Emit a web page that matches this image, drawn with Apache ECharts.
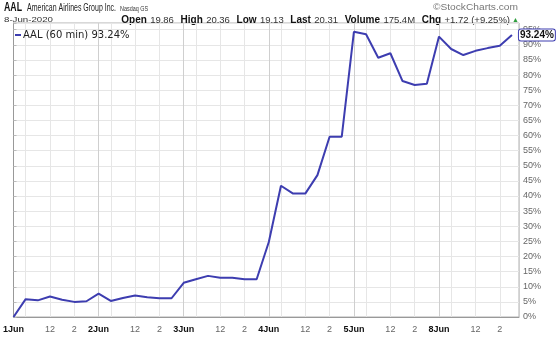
<!DOCTYPE html>
<html><head><meta charset="utf-8">
<script src="https://cdn.jsdelivr.net/npm/echarts@6/dist/echarts.min.js"></script>
<style>html,body{margin:0;padding:0;background:#fff}#c{width:560px;height:340px}</style>
</head><body><div id="c"></div>
<script>
// ---- data ----
const values = [0, 5.9, 5.5, 6.8, 5.7, 5.0, 5.2,
                7.7, 5.3, 6.3, 7.1, 6.5, 6.2, 6.2,
                11.3, 12.5, 13.6, 13.0, 13.0, 12.5, 12.5,
                24.8, 43.4, 40.8, 40.8, 46.9, 59.6, 59.6,
                94.3, 93.5, 85.7, 87.2, 78.0, 76.7, 77.1,
                92.7, 88.6, 86.6, 88.0, 88.9, 89.7, 93.24];
const dayLabels = ['1Jun', '2Jun', '3Jun', '4Jun', '5Jun', '8Jun'];
const hourLabels = ['', '', '', '12', '', '2', ''];
const barsPerDay = 7;
const symbolText = 'AAL';
const companyText = 'American Airlines Group Inc.';
const exchangeText = 'Nasdaq GS';
const dateText = '8-Jun-2020';
const statNames = ['Open', 'High', 'Low', 'Last', 'Volume', 'Chg'];
const statValues = ['19.86', '20.36', '19.13', '20.31', '175.4M', '+1.72 (+9.25%)'];
const seriesName = 'AAL (60 min) ' + values[values.length - 1].toFixed(2) + '%';

// ---- helpers ----
const FF = '"Liberation Sans", Arial, sans-serif';
const cv = document.createElement('canvas').getContext('2d');
function fit(text, font, w) { cv.font = font; return w / cv.measureText(text).width; }
function hdr(text, font, x0, x1, y, fill) {
  return { type: 'text', x: x0, y: y, scaleX: fit(text, font, x1 - x0),
    style: { text: text, font: font, fill: fill, verticalAlign: 'middle', align: 'left' } };
}

const data = values.map((v, i) => [i, v]);
const statRich = statNames.map((n, i) => '{b|' + n + '} {v|' + statValues[i] + '}').join('  ');

const chart = echarts.init(document.getElementById('c'));
chart.setOption({
  animation: false,
  backgroundColor: '#fff',
  grid: { left: 13, right: 41, top: 23, bottom: 23, show: true, borderColor: '#b0b0b0', borderWidth: 1 },
  legend: {
    data: [seriesName], left: 10, top: 25, icon: 'rect', itemWidth: 6, itemHeight: 2, itemGap: 4,
    textStyle: { fontFamily: '"DejaVu Sans", sans-serif', fontSize: 10, color: '#222', padding: [0, 0, 0, -3] }
  },
  xAxis: {
    type: 'value', min: 0, max: 41.58, interval: 1,
    axisLine: { show: true, lineStyle: { color: '#999' } },
    axisTick: { show: false },
    axisLabel: {
      margin: 8, showMaxLabel: false,
      formatter: function (v) {
        const r = Math.round(v);
        if (Math.abs(v - r) > 1e-6) return '';
        const d = Math.floor(r / barsPerDay), h = r % barsPerDay;
        if (h === 0) return dayLabels[d] ? '{d|' + dayLabels[d] + '}' : '';
        return hourLabels[h] ? '{h|' + hourLabels[h] + '}' : '';
      },
      rich: {
        d: { fontFamily: FF, fontSize: 9, fontWeight: 'bold', color: '#111' },
        h: { fontFamily: FF, fontSize: 9, color: '#666' }
      }
    },
    splitLine: { show: true, lineStyle: { width: 1,
      color: ['#cfcfcf', '#e6e6e6', 'rgba(0,0,0,0)', '#e6e6e6', 'rgba(0,0,0,0)', '#e6e6e6', 'rgba(0,0,0,0)'] } }
  },
  yAxis: {
    type: 'value', position: 'right', min: 0, max: 97.2, interval: 5,
    axisLine: { show: true, lineStyle: { color: '#999' } },
    axisTick: { show: true, length: 3, lineStyle: { color: '#bbb' } },
    axisLabel: {
      margin: 4, fontFamily: FF, fontSize: 9, color: '#666',
      formatter: function (v) {
        const r = Math.round(v);
        return (Math.abs(v - r) < 1e-6 && r % 5 === 0 && r <= 95) ? r + '%' : '';
      }
    },
    splitLine: { show: true, lineStyle: { color: '#e6e6e6', width: 1 } }
  },
  series: [{
    name: seriesName, type: 'line', data: data, symbol: 'none', smooth: false,
    lineStyle: { color: '#3d3db0', width: 2 }, itemStyle: { color: '#3d3db0' },
    endLabel: {
      show: true, distance: 7,
      formatter: function (p) { return p.value[1].toFixed(2) + '%'; },
      fontFamily: FF, fontSize: 10, fontWeight: 'bold', color: '#111',
      backgroundColor: '#fff', borderColor: '#3d3db0', borderWidth: 1, borderRadius: 2, padding: [1, 1, 0, 1]
    }
  }],
  graphic: [
    hdr(symbolText, 'bold 12px ' + FF, 4, 22, 8, '#111'),
    hdr(companyText, '10px ' + FF, 27, 116, 8, '#222'),
    hdr(exchangeText, '8px ' + FF, 120, 148, 9, '#333'),
    hdr(dateText, '8px ' + FF, 4, 53, 20, '#333'),
    hdr('\u00a9StockCharts.com', '9px ' + FF, 433, 518, 8, '#777'),
    { type: 'text', x: 510, y: 20,
      style: { text: statRich, align: 'right', verticalAlign: 'middle',
        rich: { b: { font: 'bold 10px ' + FF, fill: '#111' }, v: { font: '9.5px ' + FF, fill: '#333' } } } },
    { type: 'text', x: 512, y: 20, style: { text: '\u25b2', font: '7px ' + FF, fill: '#2e9e3e', verticalAlign: 'middle' } }
  ]
});
</script></body></html>
